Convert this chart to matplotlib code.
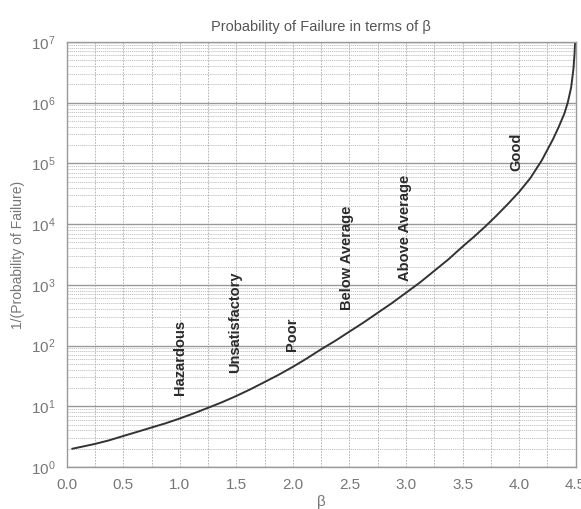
import matplotlib
matplotlib.use('Agg')
import matplotlib.pyplot as plt
from matplotlib.ticker import MultipleLocator, LogLocator, NullFormatter

plt.rcParams['font.family'] = ['Liberation Sans', 'DejaVu Sans']

# reliability index vs. return period of failure
beta = [0.05, 0.125, 0.25, 0.375, 0.5, 0.625, 0.75, 0.875, 1.0, 1.125,
        1.25, 1.375, 1.5, 1.625, 1.75, 1.875, 2.0, 2.125, 2.25, 2.375,
        2.5, 2.625, 2.75, 2.875, 3.0, 3.125, 3.25, 3.375, 3.5, 3.6,
        3.7, 3.8, 3.9, 4.0, 4.1, 4.2, 4.3, 4.35, 4.4, 4.43,
        4.46, 4.48, 4.49, 4.495]
inv_pf = [2.0, 2.14, 2.4, 2.75, 3.24, 3.8, 4.47, 5.25, 6.3, 7.67,
          9.44, 11.7, 14.8, 19.1, 25.1, 33.1, 44.7, 61.7, 87, 120,
          170, 240, 347, 500, 741, 1100, 1700, 2630, 4270, 6170,
          9120, 13800, 21400, 33900, 57500, 1.12e5, 2.51e5, 3.98e5, 6.61e5, 1.0e6,
          1.78e6, 3.55e6, 6.3e6, 1.0e7]

# rating bands
band_names = ['Hazardous', 'Unsatisfactory', 'Poor', 'Below Average', 'Above Average', 'Good']
band_x = [1.0, 1.49, 1.99, 2.48, 2.99, 3.98]
band_y = [63, 245, 155, 2770, 8700, 1.55e5]

xticks = [0.0, 0.5, 1.0, 1.5, 2.0, 2.5, 3.0, 3.5, 4.0, 4.5]

fig = plt.figure(figsize=(5.81, 5.09), dpi=100)
ax = fig.add_axes([0.1148, 0.0825, 0.876, 0.835])

ax.set_yscale('log')
ax.set_xlim(0, 4.5)
ax.set_ylim(1, 1e7)

ax.xaxis.set_major_locator(MultipleLocator(0.5))
ax.xaxis.set_minor_locator(MultipleLocator(0.25))
ax.yaxis.set_major_locator(LogLocator(base=10, numticks=10))
ax.yaxis.set_minor_locator(LogLocator(base=10, subs=range(2, 10), numticks=20))
ax.yaxis.set_minor_formatter(NullFormatter())
ax.set_xticks(xticks)
ax.set_xticklabels(['%.1f' % t for t in xticks])

ax.grid(True, which='major', axis='y', color='#999999', lw=1.0, ls='-')
ax.grid(True, which='minor', axis='y', color='#bbbbbb', lw=0.6, ls=(0, (1.5, 1)))
ax.grid(True, which='both', axis='x', color='#aaaaaa', lw=0.6, ls=(0, (2, 1.5)))
ax.set_axisbelow(True)

ax.tick_params(which='both', length=0, labelsize=11, labelcolor='#777777', pad=8)
for s in ax.spines.values():
    s.set_color('#999999')
    s.set_linewidth(1.0)

ax.plot(beta, inv_pf, color='#333333', lw=1.4)

for name, bx, by in zip(band_names, band_x, band_y):
    ax.text(bx, by, name, rotation=90, ha='center', va='center',
            fontsize=10.5, fontweight='bold', color='#2a2a2a')

ax.set_title('Probability of Failure in terms of β', fontsize=10.5, color='#555555', pad=8)
ax.set_xlabel('β', fontsize=11, color='#777777', labelpad=2)
ax.set_ylabel('1/(Probability of Failure)', fontsize=10, color='#777777', labelpad=4)

fig.savefig('out.png', dpi=100)
